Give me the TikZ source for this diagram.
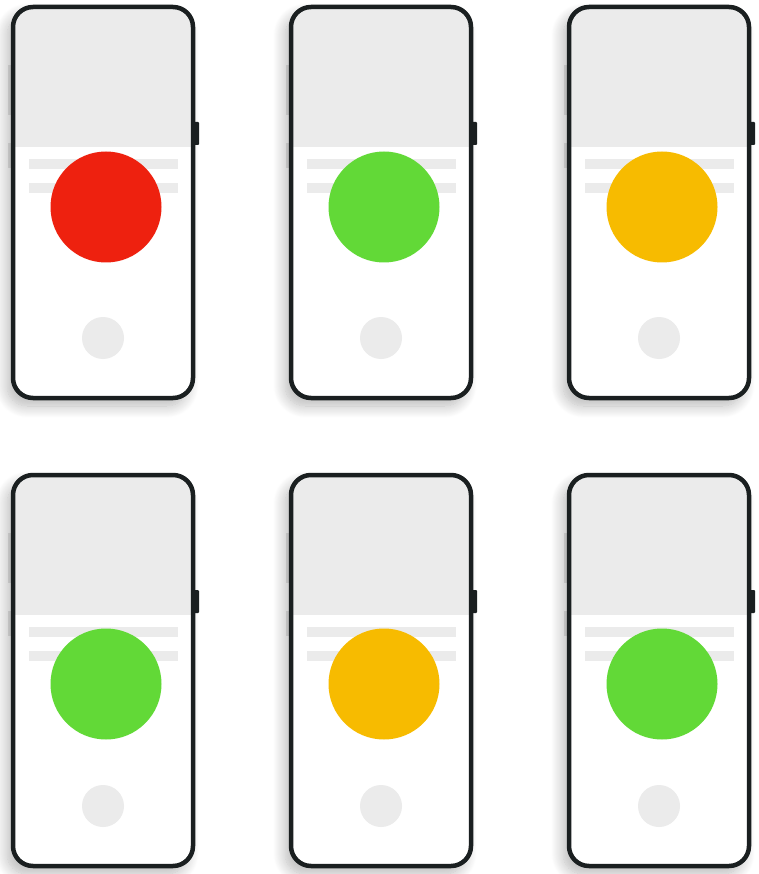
\documentclass[tikz,border=0pt]{standalone}
\usetikzlibrary{shadows.blur}
\definecolor{frame}{HTML}{1A1F20}
\definecolor{screengray}{HTML}{EBEBEB}
\definecolor{dotred}{HTML}{EE210F}
\definecolor{dotgreen}{HTML}{62D937}
\definecolor{dotorange}{HTML}{F7BB00}
\tikzset{
  phonebody/.style={fill=white, rounded corners=20pt,
    blur shadow={shadow xshift=-6pt, shadow yshift=-8pt, shadow opacity=28, shadow blur radius=12pt, shadow blur steps=16}},
  phoneframe/.style={draw=frame, line width=4.5pt, rounded corners=20pt},
  barstyle/.style={fill=screengray},
  homebtn/.style={fill=screengray},
  sidebtn/.style={fill=frame, rounded corners=1pt},
  ghostbtn/.style={fill=black, fill opacity=0.10},
}
\newcommand\drawphone[4]{%
  \begin{scope}[shift={(#1,#2)}]
    \path[phonebody] (13,7) rectangle (193,398);
    \fill[ghostbtn] (8,65) rectangle (13,115);
    \fill[ghostbtn] (8,143) rectangle (13,168);
    \fill[sidebtn] (191,122) rectangle (199,145);
    \begin{scope}
      \clip[rounded corners=20pt] (13,7) rectangle (193,398);
      \fill[screengray] (13,7) rectangle (193,147);
    \end{scope}
    \fill[barstyle] (29,159) rectangle (178,169);
    \fill[barstyle] (29,183) rectangle (178,193);
    \fill[homebtn] (103,338) circle (21);
    \fill[#3] (106,#4) circle (55.5);
    \draw[phoneframe] (13,7) rectangle (193,398);
  \end{scope}}
\begin{document}
\begin{tikzpicture}[x=1pt,y=-1pt]
  \useasboundingbox (0,0) rectangle (758,874);
  \drawphone{0}{0}{dotred}{207}
  \drawphone{278}{0}{dotgreen}{207}
  \drawphone{556}{0}{dotorange}{207}
  \drawphone{0}{468}{dotgreen}{216}
  \drawphone{278}{468}{dotorange}{216}
  \drawphone{556}{468}{dotgreen}{216}
\end{tikzpicture}
\end{document}
